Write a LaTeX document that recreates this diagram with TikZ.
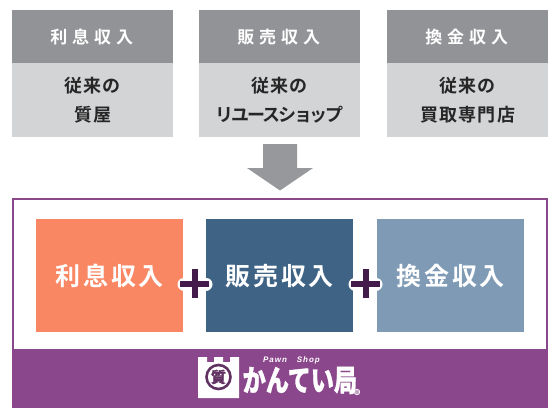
\documentclass[tikz,border=0pt]{standalone}
\usepackage{fontspec}
\setmainfont{Noto Sans CJK JP}
\newfontfamily\jpw[LetterSpace=29]{Noto Sans CJK JP Bold}
\newfontfamily\jpm[LetterSpace=7]{Noto Sans CJK JP Bold}
\newfontfamily\jpk[LetterSpace=-12]{Noto Sans CJK JP Bold}
\newfontfamily\jpg[LetterSpace=11]{Noto Sans CJK JP Bold}
\newfontfamily\jpb[FakeBold=1.2]{Noto Sans CJK JP Black}
\newfontfamily\lat[LetterSpace=12]{Liberation Sans}
\definecolor{hdgray}{HTML}{929396}
\definecolor{bdgray}{HTML}{D3D4D6}
\definecolor{arrgray}{HTML}{97989B}
\definecolor{pur}{HTML}{8A478B}
\definecolor{darkp}{HTML}{431C4B}
\definecolor{orangeb}{HTML}{F98763}
\definecolor{blueb}{HTML}{3E6385}
\definecolor{lightb}{HTML}{7F9AB5}
\tikzset{
  hd/.style={fill=hdgray,text=white,minimum width=161pt,minimum height=53pt,inner sep=0pt,font=\jpw\fontsize{17}{20}\selectfont,anchor=north west},
  bd/.style={fill=bdgray,text=black!85,minimum width=161pt,minimum height=74pt,inner sep=0pt,font=\jpm\fontsize{18}{28.5}\selectfont,align=center,anchor=north west},
  big/.style={text=white,minimum width=147pt,minimum height=113pt,inner sep=0pt,font=\jpg\fontsize{25}{28}\selectfont,anchor=north west},
  plus/.style={line width=6pt,darkp},
  plushalo/.style={line width=13pt,white,line cap=round},
}
\begin{document}
\begin{tikzpicture}[x=1pt,y=-1pt]
\useasboundingbox (0,0) rectangle (560,420);
\fill[white] (0,0) rectangle (560,420);
% top columns
\node[hd] (h1) at (12,10) {\raisebox{1pt}{\hspace{-2pt}利息収入}};
\node[bd] (b1) at (12,63) {従来の\\質屋};
\node[hd] (h2) at (199,10) {\raisebox{1pt}{\hspace{-2pt}販売収入}};
\node[bd] (b2) at (199,63) {従来の\\{\jpk リユースショップ}};
\node[hd] (h3) at (387,10) {\raisebox{1pt}{\hspace{-2pt}換金収入}};
\node[bd] (b3) at (387,63) {従来の\\買取専門店};
% arrow
\fill[arrgray] (263,144) -- (297,144) -- (297,168) -- (313,168) -- (280,190.5) -- (247,168) -- (263,168) -- cycle;
% frame
\draw[pur,line width=2.4pt] (13,199) rectangle (547,407);
\fill[pur] (12,348.5) rectangle (548,408);
% big boxes
\node[big,fill=orangeb] (o) at (36,219) {\raisebox{2pt}{利息収入}};
\node[big,fill=blueb] (n) at (206,219) {\raisebox{2pt}{販売収入}};
\node[big,fill=lightb] (l) at (377,219) {\raisebox{2pt}{換金収入}};
% plus signs
\draw[plushalo] (184,284) -- (206,284);
\draw[plushalo] (355,284) -- (376,284);
\draw[plus] (180,284) -- (209,284);
\draw[plus] (194.5,269) -- (194.5,298);
\draw[plus] (351,284) -- (380,284);
\draw[plus] (365.5,269) -- (365.5,298);
% logo
\fill[white] (198,357) -- (207,357) -- (207,362) -- (214,362) -- (214,357) -- (223,357) -- (223,362) -- (230,362) -- (230,357) -- (239,357) -- (239,398) -- (198,398) -- cycle;
\node[circle,draw=pur!70!black,line width=2.6pt,fill=white,minimum size=24pt,inner sep=0pt,text=pur!70!black,font=\jpb\fontsize{15}{15}\selectfont] (seal) at (218.5,377) {質};
\node[inner sep=0pt,text=white,font=\jpb\fontsize{30}{30}\selectfont,anchor=west] (brand) at (242.5,380.5) {\scalebox{0.77}[1]{かんてい局}};
\node[inner sep=0pt,text=white,font=\lat\bfseries\itshape\fontsize{8}{8}\selectfont] (pawn) at (291.5,360) {Pawn\hspace{10pt}Shop};
\node[circle,draw=white,fill=white!50!pur,line width=0.7pt,inner sep=0pt,minimum size=5.5pt] (reg) at (357,392) {};
\end{tikzpicture}
\end{document}
